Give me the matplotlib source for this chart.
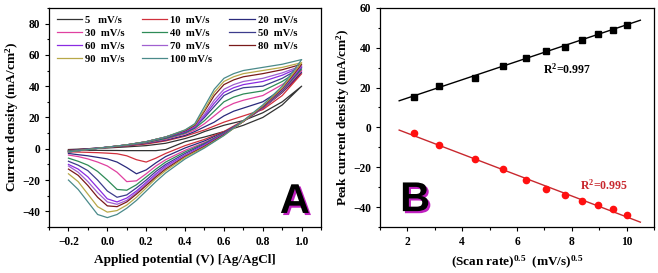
import numpy as np
import matplotlib
matplotlib.use('Agg')
import matplotlib.pyplot as plt
import matplotlib.patheffects as pe
from matplotlib.ticker import MultipleLocator

plt.rcParams['font.family'] = 'Liberation Serif'
plt.rcParams['font.weight'] = 'bold'
plt.rcParams['mathtext.fontset'] = 'custom'
plt.rcParams['mathtext.rm'] = 'Liberation Serif:bold'
plt.rcParams['mathtext.it'] = 'Liberation Serif:italic:bold'
plt.rcParams['mathtext.bf'] = 'Liberation Serif:bold'

# ---- panel A: CV curves ----
scan_rates = [5, 10, 20, 30, 40, 50, 60, 70, 80, 90, 100]
labels = ['5   mV/s', '10  mV/s', '20  mV/s', '30  mV/s', '40  mV/s', '50  mV/s',
          '60  mV/s', '70  mV/s', '80  mV/s', '90  mV/s', '100 mV/s']
colors = ['#333333', '#d0303c', '#2a2a7c', '#e040a0', '#2e8b57', '#3c3c8c',
          '#8a2be2', '#a060d0', '#7a1a1a', '#b8a848', '#4a8a8a']

# forward (anodic) branch
v_fwd = [-0.2, -0.1, 0.0, 0.1, 0.2, 0.3, 0.4, 0.45, 0.5, 0.55, 0.6, 0.65, 0.7, 0.8, 0.9, 1.0]
i_fwd = [
    [-0.5, 0, 0.5, 1.2, 2, 3.5, 6.5, 8.5, 11, 13, 15, 16.5, 18, 23, 30, 40],
    [-1, 0, 0.8, 1.8, 3, 5, 8, 10, 12, 14.5, 17, 19, 21, 25, 34, 48],
    [-1.2, 0, 1, 2, 3.5, 5.5, 8.5, 11, 14, 17, 21, 24, 26, 30, 38, 49],
    [-1.5, -0.3, 1, 2.2, 3.8, 6, 9.5, 12, 16, 21, 26, 29, 31, 34, 41, 50],
    [-1.5, -0.3, 1, 2.3, 4, 6.5, 10, 13, 18, 24, 30, 33, 35, 37, 43, 51],
    [-2, -0.5, 1, 2.5, 4.3, 7, 10.5, 13.5, 20, 27, 34, 37, 39, 40, 45, 52],
    [-2, -0.5, 1, 2.5, 4.5, 7.5, 11, 14, 21, 29, 36, 39, 41, 43, 47, 52.5],
    [-2, -0.5, 1, 2.5, 4.5, 7.5, 11.5, 14.5, 22, 31, 38, 41, 43, 45, 48.5, 53],
    [-2, -0.5, 1, 2.5, 4.5, 7.5, 11.5, 15, 24, 34, 41, 44, 46, 48, 50.5, 54],
    [-2, -0.5, 1, 2.5, 4.5, 7.5, 12, 15.5, 25, 36, 43, 46, 48, 50, 52, 55],
    [-2, -0.5, 1, 2.5, 4.5, 7.5, 12, 16, 27, 38, 45, 48, 50, 52, 54, 57],
]

# reverse (cathodic) branch
v_rev = [1.0, 0.9, 0.8, 0.7, 0.6, 0.5, 0.4, 0.3, 0.25, 0.2, 0.15, 0.1, 0.05, 0.0, -0.05, -0.1, -0.15, -0.2]
i_rev = [
    [40, 28, 20, 15, 11, 7.5, 4.5, -0.5, -1.2, -1.2, -1.2, -1.2, -1.1, -1.1, -1, -1, -1, -1],
    [48, 36, 26, 18, 11, 6, 2, -3, -6, -8.5, -7, -4.5, -3.2, -2.8, -2.5, -2.3, -2.1, -2],
    [49, 36, 26, 17.5, 10.5, 5, 0.5, -5, -9, -13.5, -16, -12, -8.5, -6.5, -5.5, -4.5, -3.8, -3],
    [50, 36.5, 26, 17.5, 10, 4, -1, -7, -11, -16, -20.5, -21, -15, -11, -8.5, -6.5, -5, -4],
    [51, 37, 26.5, 17.5, 10, 3.5, -2, -8.5, -13, -18, -23, -26.5, -26, -20, -14.5, -10.5, -8, -6],
    [52, 37.5, 26.5, 17.5, 9.5, 3, -3, -10, -14.5, -20, -25, -29.5, -31, -27, -20, -14, -10.5, -8],
    [52.5, 38, 27, 17.5, 9.5, 2.5, -4, -11, -16, -21.5, -27, -31.5, -34, -32, -25, -18, -13, -10],
    [53, 38, 27, 17.5, 9, 2, -4.5, -12, -17, -22.5, -28, -33, -35.5, -34, -28, -21, -15, -11],
    [54, 38.5, 27, 17.5, 9, 1.5, -5, -13, -18, -23.5, -29, -34, -37, -36.5, -31, -23.5, -17, -13],
    [55, 39, 27.5, 17.5, 8.5, 1, -5.5, -14, -19, -25, -31, -36, -39.5, -40.5, -37, -29, -21, -16],
    [57, 40, 28, 18, 8.5, 0.5, -6.5, -15.5, -21, -27, -33, -38, -42, -44, -42, -34, -26, -20],
]

# ---- panel B: peak current vs sqrt(scan rate) ----
sqrt_rate = np.sqrt(scan_rates)
ipa = [15.5, 21, 25, 31, 35, 38.5, 40.5, 44, 47, 49, 51.5]
ipc = [-3, -9, -16, -21, -26.5, -31, -34, -37, -39, -41, -44]
fit_x = [1.7, 10.5]

fig = plt.figure(figsize=(6.58, 2.73), dpi=100)
ax1 = fig.add_axes([0.0745, 0.1685, 0.4135, 0.8025])
ax2 = fig.add_axes([0.5775, 0.1685, 0.4165, 0.8025])

handles = []
for k in range(len(scan_rates)):
    v = v_fwd + v_rev
    i = i_fwd[k] + i_rev[k]
    h, = ax1.plot(v, i, color=colors[k], lw=0.9, label=labels[k])
    handles.append(h)

ax1.set_xlim(-0.3, 1.1)
ax1.set_ylim(-50, 90)
ax1.xaxis.set_minor_locator(MultipleLocator(0.1))
ax1.yaxis.set_minor_locator(MultipleLocator(10))
ax1.set_yticks([-40, -20, 0, 20, 40, 60, 80])
ax1.set_xticks([-0.2, 0.0, 0.2, 0.4, 0.6, 0.8, 1.0])
ax1.set_xlabel('Applied potential (V) [Ag/AgCl]', fontsize=9.5, fontweight='bold')
ax1.set_ylabel('Current density (mA/cm$^2$)', fontsize=9.5, fontweight='bold', labelpad=1)

# legend is filled row by row in the reference
order = [0, 3, 6, 9, 1, 4, 7, 10, 2, 5, 8]
ax1.legend([handles[j] for j in order], [labels[j] for j in order],
           loc='upper left', ncol=3, frameon=False, handlelength=2.4,
           handletextpad=0.25, columnspacing=1.6, labelspacing=0.32,
           borderaxespad=0.3, borderpad=0.4, prop={'weight': 'bold', 'size': 7.7})
ax1.text(0.965, -34, 'A', fontsize=30, fontweight='bold', family='Liberation Sans',
         ha='center', va='center', color='black',
         path_effects=[pe.withSimplePatchShadow(offset=(1.5, -1.5), shadow_rgbFace='#c020c0', alpha=1.0)])

a = np.polyfit(sqrt_rate, ipa, 1)
c = np.polyfit(sqrt_rate, ipc, 1)
ax2.plot(fit_x, np.polyval(a, fit_x), color='black', lw=1.0)
ax2.plot(fit_x, np.polyval(c, fit_x), color='#c8282e', lw=1.0)
ax2.plot(sqrt_rate, ipa, 's', color='black', ms=4.5)
ax2.plot(sqrt_rate, ipc, 'o', color='#ff1010', ms=4.5)
ax2.set_xlim(1, 11)
ax2.set_ylim(-50, 60)
ax2.set_xticks([2, 4, 6, 8, 10])
ax2.xaxis.set_minor_locator(MultipleLocator(1))
ax2.set_yticks([-40, -20, 0, 20, 40, 60])
ax2.yaxis.set_minor_locator(MultipleLocator(10))
ax2.set_xlabel('(Scan rate)$^{0.5}$  (mV/s)$^{0.5}$', fontsize=9.5, fontweight='bold')
ax2.set_ylabel('Peak current density (mA/cm$^2$)', fontsize=9.5, fontweight='bold', labelpad=1)
ax2.text(6.95, 29, 'R$^2$=0.997', fontsize=8.5, fontweight='bold', color='black',
         ha='left', va='center')
ax2.text(8.3, -29, 'R$^2$=0.995', fontsize=8.5, fontweight='bold', color='#c8282e',
         ha='left', va='center')
ax2.text(2.28, -36.5, 'B', fontsize=30, fontweight='bold', family='Liberation Sans',
         ha='center', va='center', color='black',
         path_effects=[pe.withSimplePatchShadow(offset=(1.5, -1.5), shadow_rgbFace='#c020c0', alpha=1.0)])

for ax in (ax1, ax2):
    ax.tick_params(which='both', direction='out', labelsize=8.3, width=0.8)
    ax.tick_params(which='major', length=3)
    ax.tick_params(which='minor', length=1.8)
    for lab in ax.get_xticklabels() + ax.get_yticklabels():
        lab.set_fontweight('bold')
    for s in ax.spines.values():
        s.set_linewidth(0.9)

fig.savefig('out.png', dpi=100)
